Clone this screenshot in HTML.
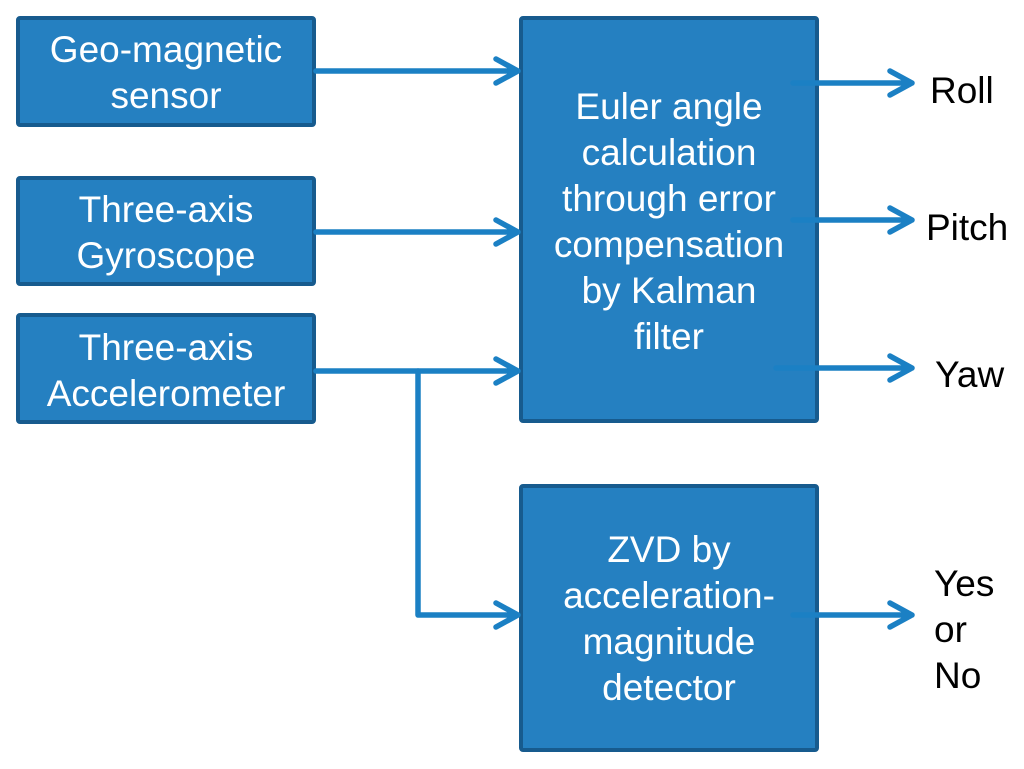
<!DOCTYPE html>
<html><head><meta charset="utf-8"><style>
html,body{margin:0;padding:0;background:#fff;}
svg{display:block}
text{font-family:"Liberation Sans",sans-serif;font-size:37px}
.w{fill:#fff}
.b{fill:#000}
</style></head><body>
<svg width="1024" height="769" viewBox="0 0 1024 769">
<g fill="#2580c1" stroke="#175b8e" stroke-width="4">
<rect x="18" y="18" width="296" height="107" rx="2"/>
<rect x="18" y="178" width="296" height="106" rx="2"/>
<rect x="18" y="315" width="296" height="107" rx="2"/>
<rect x="521" y="18" width="296" height="403" rx="2"/>
<rect x="521" y="486" width="296" height="264" rx="2"/>
</g>
<g stroke="#1b80c4" stroke-width="5.5" fill="none" stroke-linecap="round" stroke-linejoin="round">
<path d="M316 71H518M496 59L518 71L496 83"/>
<path d="M316 232H518M496 220L518 232L496 244"/>
<path d="M316 371H518M496 359L518 371L496 383"/>
<path d="M418 371V615H518M496 603L518 615L496 627"/>
<path d="M793 83H912M890 71L912 83L890 95"/>
<path d="M793 220H912M890 208L912 220L890 232"/>
<path d="M776 368H912M890 356L912 368L890 380"/>
<path d="M793 615H912M890 603L912 615L890 627"/>
</g>
<g class="w" text-anchor="middle">
<text x="166" y="62">Geo-magnetic</text>
<text x="166" y="108">sensor</text>
<text x="166" y="222">Three-axis</text>
<text x="166" y="268">Gyroscope</text>
<text x="166" y="360">Three-axis</text>
<text x="166" y="406">Accelerometer</text>
<text x="669" y="119">Euler angle</text>
<text x="669" y="165">calculation</text>
<text x="669" y="211">through error</text>
<text x="669" y="257">compensation</text>
<text x="669" y="303">by Kalman</text>
<text x="669" y="349">filter</text>
<text x="669" y="562">ZVD by</text>
<text x="669" y="608">acceleration-</text>
<text x="669" y="654">magnitude</text>
<text x="669" y="700">detector</text>
</g>
<g class="b">
<text x="930" y="103">Roll</text>
<text x="926" y="240">Pitch</text>
<text x="935" y="387">Yaw</text>
<text x="934" y="596">Yes</text>
<text x="934" y="642">or</text>
<text x="934" y="688">No</text>
</g>
</svg>
</body></html>
